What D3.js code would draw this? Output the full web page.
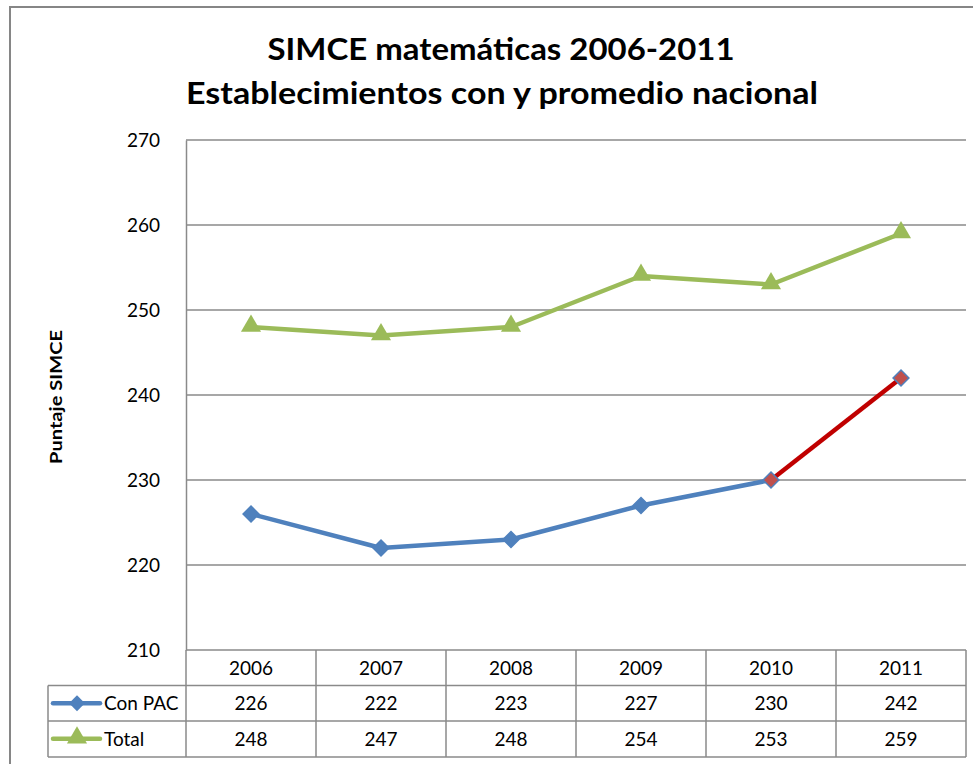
<!DOCTYPE html>
<html lang="es">
<head>
    <meta charset="UTF-8">
    <title>SIMCE matemáticas 2006-2011</title>
    <script src="https://d3js.org/d3.v7.min.js"></script>
    <style>
        body { margin: 0; background: #fff; }
        svg { display: block; font-family: Lato, "Open Sans", sans-serif; }
    </style>
</head>
<body>
<script>
    // datos
    const years = ["2006", "2007", "2008", "2009", "2010", "2011"];
    const conPac = [226, 222, 223, 227, 230, 242];
    const total = [248, 247, 248, 254, 253, 259];
    const yTicks = [210, 220, 230, 240, 250, 260, 270];
    const seriesNames = ["Con PAC", "Total"];
    const highlightFrom = "2010";   // tramo en rojo desde este año

    const W = 973, H = 764;
    const blue = "#4f81bd", green = "#9bbb59", red = "#c00000", redFill = "#c0504d";
    const gridColor = "#8a8a8a";

    let svg = d3.select("body").append("svg")
                .attr("width", W)
                .attr("height", H);

    // marco exterior
    svg.append("rect")
       .attr("x", 10).attr("y", 7)
       .attr("width", 975).attr("height", 770)
       .attr("fill", "none")
       .attr("stroke", "#868686")
       .attr("stroke-width", 2);

    // titulo
    svg.append("text")
       .attr("x", 501).attr("y", 60)
       .attr("text-anchor", "middle")
       .attr("font-size", 30).attr("font-weight", "bold")
       .attr("textLength", 467).attr("lengthAdjust", "spacingAndGlyphs")
       .text("SIMCE matemáticas 2006-2011");
    svg.append("text")
       .attr("x", 502).attr("y", 104)
       .attr("text-anchor", "middle")
       .attr("font-size", 30).attr("font-weight", "bold")
       .attr("textLength", 632).attr("lengthAdjust", "spacingAndGlyphs")
       .text("Establecimientos con y promedio nacional");

    let x = d3.scaleBand().domain(years).range([186, 966]);
    let y = d3.scaleLinear().domain([210, 270]).range([650, 140]);
    const cx = d => x(d) + x.bandwidth() / 2;

    // lineas de grilla
    svg.append("g")
       .selectAll("line")
       .data(yTicks)
       .enter()
       .append("line")
       .attr("x1", 186).attr("x2", 966)
       .attr("y1", d => y(d)).attr("y2", d => y(d))
       .attr("stroke", gridColor)
       .attr("stroke-width", 1.5);

    // eje y
    let yAxis = svg.append("g")
       .attr("transform", "translate(186,0)")
       .call(d3.axisLeft(y).tickValues(yTicks).tickSize(0).tickPadding(26));
    yAxis.select(".domain").attr("stroke", gridColor).attr("stroke-width", 1.5);
    yAxis.selectAll("text")
         .attr("font-size", 19)
         .attr("font-family", "Lato, sans-serif")
         .attr("fill", "#000");

    svg.append("text")
       .attr("transform", "translate(62,397) rotate(-90)")
       .attr("text-anchor", "middle")
       .attr("font-size", 17).attr("font-weight", "bold")
       .attr("textLength", 134).attr("lengthAdjust", "spacingAndGlyphs")
       .text("Puntaje SIMCE");

    // tabla de datos
    const rowTop = [650, 685.5, 721], rowH = 35.5;
    let table = svg.append("g").attr("stroke", gridColor).attr("stroke-width", 1.5);
    table.append("line").attr("x1", 186).attr("x2", 186).attr("y1", 650).attr("y2", 757);
    years.forEach(yr => {
        table.append("line")
             .attr("x1", x(yr) + x.bandwidth()).attr("x2", x(yr) + x.bandwidth())
             .attr("y1", 650).attr("y2", 757);
    });
    table.append("line").attr("x1", 48).attr("x2", 966).attr("y1", rowTop[1]).attr("y2", rowTop[1]);
    table.append("line").attr("x1", 48).attr("x2", 966).attr("y1", rowTop[2]).attr("y2", rowTop[2]);
    table.append("line").attr("x1", 48).attr("x2", 966).attr("y1", 757).attr("y2", 757);
    table.append("line").attr("x1", 48).attr("x2", 48).attr("y1", rowTop[1]).attr("y2", 757);

    const cellText = (txt, xx, row, anchor) => svg.append("text")
        .attr("x", xx).attr("y", rowTop[row] + rowH / 2 + 7)
        .attr("text-anchor", anchor || "middle")
        .attr("font-size", 19)
        .text(txt);

    years.forEach((yr, i) => {
        cellText(yr, cx(yr), 0);
        cellText(conPac[i], cx(yr), 1);
        cellText(total[i], cx(yr), 2);
    });

    // marcadores
    const diamond = d3.symbol().type(d3.symbolDiamond2).size(160);
    const triangle = d3.symbol().type(d3.symbolTriangle).size(175);

    // leyenda en la tabla
    const legendColors = [blue, green];
    seriesNames.forEach((name, i) => {
        let yy = rowTop[i + 1] + rowH / 2;
        svg.append("line")
           .attr("x1", 53).attr("x2", 100)
           .attr("y1", yy).attr("y2", yy)
           .attr("stroke", legendColors[i])
           .attr("stroke-width", 4.5)
           .attr("stroke-linecap", "round");
        svg.append("path")
           .attr("d", i === 0 ? diamond() : triangle())
           .attr("transform", `translate(77,${yy + (i === 0 ? 0 : -1)})`)
           .attr("fill", legendColors[i]);
        cellText(name, 104, i + 1, "start");
    });

    // series
    let line = d3.line().x(d => cx(d.year)).y(d => y(d.v));
    const pacPts = years.map((yr, i) => ({ year: yr, v: conPac[i] }));
    const totPts = years.map((yr, i) => ({ year: yr, v: total[i] }));
    const cut = years.indexOf(highlightFrom);

    svg.append("path")
       .datum(totPts)
       .attr("d", line)
       .attr("fill", "none")
       .attr("stroke", green)
       .attr("stroke-width", 4.5)
       .attr("stroke-linejoin", "round");

    svg.append("path")
       .datum(pacPts.slice(0, cut + 1))
       .attr("d", line)
       .attr("fill", "none")
       .attr("stroke", blue)
       .attr("stroke-width", 4.5)
       .attr("stroke-linejoin", "round");

    svg.append("path")
       .datum(pacPts.slice(cut))
       .attr("d", line)
       .attr("fill", "none")
       .attr("stroke", red)
       .attr("stroke-width", 4.5);

    svg.selectAll(".tri")
       .data(totPts)
       .enter()
       .append("path")
       .attr("d", triangle)
       .attr("transform", d => `translate(${cx(d.year)},${y(d.v) - 1})`)
       .attr("fill", green);

    svg.selectAll(".dia")
       .data(pacPts)
       .enter()
       .append("path")
       .attr("d", diamond)
       .attr("transform", d => `translate(${cx(d.year)},${y(d.v)})`)
       .attr("fill", (d, i) => i >= cut ? redFill : blue)
       .attr("stroke", blue)
       .attr("stroke-width", 1.5);
</script>
</body>
</html>
